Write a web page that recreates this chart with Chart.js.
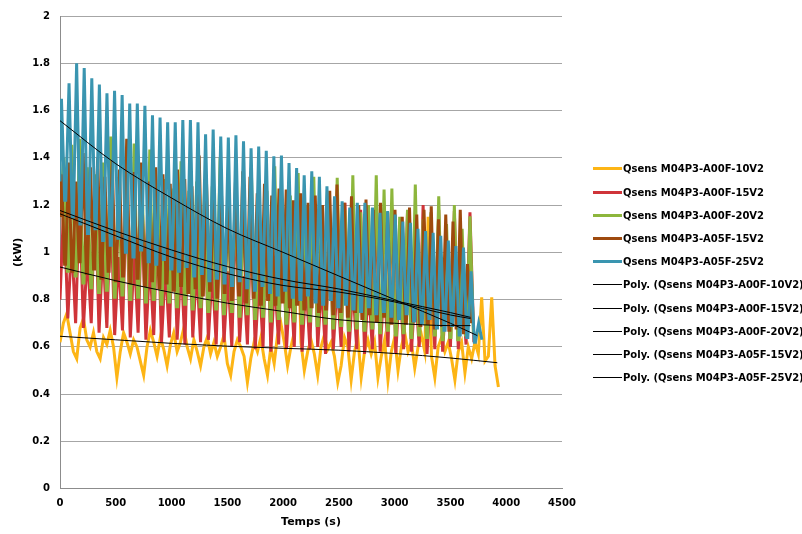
<!DOCTYPE html>
<html>
<head>
<meta charset="utf-8">
<script src="https://cdn.jsdelivr.net/npm/chart.js@4.4.0/dist/chart.umd.min.js"></script>
<style>
  html, body { margin: 0; padding: 0; background: #fff; overflow: hidden; }
  #wrap { position: relative; width: 802px; height: 534px; overflow: hidden; }
  #legend { position: absolute; left: 593px; top: 157.4px; font: bold 10px "DejaVu Sans"; color: #000; white-space: nowrap; }
  .row { height: 23.2px; display: flex; align-items: center; }
  .mark { width: 29px; margin-right: 1px; flex: none; }
</style>
</head>
<body>
<div id="wrap">
  <canvas id="chart" width="802" height="534"></canvas>
  <div id="legend"></div>
</div>
<script>
// series names / colours
const seriesNames = ['Qsens M04P3-A00F-10V2', 'Qsens M04P3-A00F-15V2', 'Qsens M04P3-A00F-20V2',
                     'Qsens M04P3-A05F-15V2', 'Qsens M04P3-A05F-25V2'];
const seriesColors = ['#FDB515', '#CF3439', '#8DB63C', '#9E4A0E', '#3A95B0'];

// A00F-10V2: noisy signal, sampled every 30 s (kW)
const yellowStep = 30;
const yellowKW = [0.62, 0.70, 0.74, 0.66, 0.58, 0.55, 0.68, 0.72, 0.63, 0.60, 0.66, 0.58, 0.55, 0.64, 0.61, 0.67, 0.60, 0.47, 0.58, 0.66, 0.62,
  0.57, 0.63, 0.60, 0.54, 0.48, 0.60, 0.67, 0.62, 0.56, 0.64, 0.59, 0.52, 0.61, 0.66, 0.58, 0.62, 0.68, 0.60, 0.55, 0.63,
  0.58, 0.52, 0.60, 0.64, 0.57, 0.62, 0.56, 0.60, 0.65, 0.53, 0.48, 0.58, 0.63, 0.60, 0.56, 0.45, 0.55, 0.62, 0.58, 0.64,
  0.55, 0.48, 0.60, 0.53, 0.65, 0.70, 0.62, 0.52, 0.60, 0.66, 1.16, 0.62, 0.50, 0.58, 0.63, 0.57, 0.48, 0.60, 0.65, 0.59,
  0.62, 0.56, 0.45, 0.52, 0.64, 0.60, 0.46, 0.58, 0.64, 0.47, 0.58, 0.63, 0.57, 0.62, 0.47, 0.56, 0.63, 0.46, 0.58, 0.64,
  0.50, 0.60, 0.66, 0.58, 0.62, 0.51, 0.60, 0.65, 0.58, 1.15, 0.56, 0.47, 0.60, 0.64, 0.58, 0.62, 0.55, 0.46, 0.58, 0.62,
  0.49, 0.60, 0.55, 0.62, 0.57, 0.81, 0.54, 0.56, 0.81, 0.52, 0.43];

// A00F-15V2: alternating highs / dips every 35 s (kW)
const redStep = 35;
const redKW = [0.80, 1.22, 0.72, 1.05, 0.70, 1.23, 0.68, 1.00, 0.70, 1.26, 0.66, 1.02, 0.68, 1.21, 0.65, 0.98, 0.67, 1.24, 0.64, 1.00,
  0.66, 1.20, 0.63, 0.97, 0.65, 1.18, 0.62, 0.95, 0.64, 1.21, 0.63, 0.96, 0.61, 1.23, 0.64, 0.94, 0.62, 1.22, 0.63, 0.93,
  0.61, 1.16, 0.62, 0.92, 0.60, 1.19, 0.62, 0.90, 0.61, 1.17, 0.59, 0.91, 0.60, 1.22, 0.58, 0.89, 0.61, 1.19, 0.59, 0.90,
  0.60, 1.20, 0.58, 0.88, 0.59, 1.17, 0.60, 0.87, 0.57, 1.19, 0.59, 0.88, 0.60, 1.21, 0.58, 0.86, 0.59, 1.18, 0.57, 0.87,
  0.59, 1.20, 0.58, 0.86, 0.60, 1.19, 0.57, 0.88, 0.59, 1.17, 0.58, 0.85, 0.60, 1.20, 0.57, 0.87, 0.59, 1.18, 0.58, 0.86,
  0.60, 1.175, 0.59, 0.85, 0.61, 1.17, 0.62];

// cycling series: peak of each cycle and the level between cycles (kW)
const greenPeriod = 70, greenOffset = 35, greenSpike = 60;
const greenPeaks = [1.40, 1.455, 1.48, 1.36, 1.33, 1.38, 1.49, 1.32, 1.35, 1.46,
  1.30, 1.435, 1.28, 1.31, 1.27, 1.385, 1.26, 1.30, 1.25, 1.28,
  1.40, 1.24, 1.27, 1.23, 1.357, 1.22, 1.26, 1.364, 1.21, 1.24,
  1.336, 1.20, 1.32, 1.19, 1.23, 1.315, 1.18, 1.326, 1.17, 1.20,
  1.326, 1.266, 1.27, 1.15, 1.18, 1.287, 1.14, 1.17, 1.237, 1.12,
  1.20, 1.10, 1.153];
const greenLows = [1.20, 0.92, 0.90, 0.87, 0.85, 0.83, 0.84, 0.81, 0.82, 0.80,
  0.81, 0.79, 0.80, 0.78, 0.79, 0.77, 0.78, 0.76, 0.77, 0.75,
  0.76, 0.74, 0.75, 0.73, 0.74, 0.72, 0.73, 0.71, 0.72, 0.70,
  0.71, 0.70, 0.71, 0.69, 0.70, 0.68, 0.69, 0.67, 0.68, 0.67,
  0.68, 0.66, 0.67, 0.65, 0.66, 0.64, 0.65, 0.64, 0.65, 0.63,
  0.64, 0.63, 0.65, 0.66];

const brownPeriod = 65, brownOffset = 13, brownSpike = 56;
const brownPeaks = [1.33, 1.38, 1.30, 1.42, 1.36, 1.40, 1.32, 1.39, 1.35, 1.48,
  1.34, 1.38, 1.30, 1.36, 1.33, 1.29, 1.35, 1.31, 1.28, 1.41,
  1.30, 1.27, 1.33, 1.26, 1.30, 1.343, 1.32, 1.25, 1.29, 1.24,
  1.27, 1.266, 1.22, 1.25, 1.21, 1.24, 1.20, 1.26, 1.287, 1.21,
  1.237, 1.20, 1.223, 1.18, 1.21, 1.17, 1.18, 1.15, 1.19, 1.16,
  1.18, 1.195, 1.14, 1.16, 1.13, 1.18, 0.95];
const brownLows = [1.15, 0.95, 0.92, 0.96, 0.91, 0.93, 0.89, 0.92, 0.88, 0.90,
  0.87, 0.89, 0.86, 0.88, 0.85, 0.87, 0.84, 0.86, 0.83, 0.85,
  0.82, 0.84, 0.81, 0.83, 0.80, 0.82, 0.79, 0.81, 0.78, 0.80,
  0.78, 0.79, 0.77, 0.78, 0.76, 0.77, 0.75, 0.76, 0.74, 0.75,
  0.73, 0.75, 0.72, 0.74, 0.71, 0.73, 0.70, 0.72, 0.70, 0.71,
  0.69, 0.70, 0.68, 0.69, 0.67, 0.68, 0.66, 0.70];

const tealPeriod = 68, tealOffset = 13, tealSpike = 58;
const tealPeaks = [1.65, 1.715, 1.80, 1.78, 1.736, 1.71, 1.673, 1.684, 1.666, 1.63,
  1.63, 1.62, 1.58, 1.57, 1.55, 1.55, 1.56, 1.56, 1.55, 1.50,
  1.52, 1.49, 1.486, 1.495, 1.47, 1.44, 1.448, 1.43, 1.406, 1.41,
  1.378, 1.357, 1.326, 1.343, 1.32, 1.28, 1.237, 1.216, 1.19, 1.21,
  1.21, 1.19, 1.167, 1.175, 1.16, 1.13, 1.125, 1.10, 1.09, 1.083,
  1.07, 1.05, 1.027, 1.02, 0.92, 0.70];
const tealLows = [1.30, 1.22, 1.15, 1.12, 1.08, 1.10, 1.05, 1.03, 1.06, 1.00,
  0.98, 1.01, 0.96, 0.95, 0.97, 0.93, 0.92, 0.94, 0.90, 0.91,
  0.88, 0.89, 0.87, 0.86, 0.88, 0.85, 0.84, 0.86, 0.83, 0.82,
  0.84, 0.81, 0.80, 0.82, 0.79, 0.78, 0.80, 0.77, 0.78, 0.76,
  0.75, 0.77, 0.74, 0.75, 0.73, 0.72, 0.74, 0.71, 0.70, 0.72,
  0.68, 0.67, 0.69, 0.65, 0.64, 0.62, 0.63];

// polynomial trend lines, read at a few times
const trendTimesYellow = [0, 500, 1000, 1500, 2000, 2500, 3000, 3500, 3920];
const trendTimesShort = [0, 500, 1000, 1500, 2000, 2500, 3000, 3500, 3680];
const trendTimesTeal = [0, 500, 1000, 1500, 2000, 2500, 3000, 3500, 3740];
const yellowTrend = [0.645, 0.630, 0.615, 0.603, 0.594, 0.586, 0.572, 0.553, 0.533];
const redTrend = [0.938, 0.880, 0.830, 0.785, 0.750, 0.715, 0.700, 0.690, 0.690];
const greenTrend = [1.177, 1.090, 1.010, 0.940, 0.885, 0.845, 0.795, 0.745, 0.725];
const brownTrend = [1.163, 1.070, 0.980, 0.910, 0.860, 0.832, 0.790, 0.735, 0.720];
const tealTrend = [1.557, 1.375, 1.230, 1.100, 1.000, 0.900, 0.800, 0.700, 0.648];

const xTicks = { min: 0, max: 4500, step: 500 };
const yTicks = { min: 0, max: 2, step: 0.2 };

function stepPoints(step, values) {
  return values.map((v, i) => ({ x: i * step, y: v }));
}
function timePoints(times, values) {
  return values.map((v, i) => ({ x: times[i], y: v }));
}
// one spike per cycle, between the levels read either side of it
function spikePoints(period, offset, width, peaks, lows) {
  const pts = [{ x: 0, y: lows[0] }];
  peaks.forEach((p, k) => {
    const c = offset + k * period;
    pts.push({ x: Math.max(0, c - width / 2), y: lows[k] });
    pts.push({ x: c, y: p });
    pts.push({ x: c + width / 2, y: lows[k + 1] });
  });
  return pts;
}

const seriesData = [
  stepPoints(yellowStep, yellowKW),
  stepPoints(redStep, redKW),
  spikePoints(greenPeriod, greenOffset, greenSpike, greenPeaks, greenLows),
  spikePoints(brownPeriod, brownOffset, brownSpike, brownPeaks, brownLows),
  spikePoints(tealPeriod, tealOffset, tealSpike, tealPeaks, tealLows)
];
const trendData = [
  timePoints(trendTimesYellow, yellowTrend),
  timePoints(trendTimesShort, redTrend),
  timePoints(trendTimesShort, greenTrend),
  timePoints(trendTimesShort, brownTrend),
  timePoints(trendTimesTeal, tealTrend)
];

const datasets = [];
for (let i = 0; i < seriesNames.length; i++) {
  datasets.push({
    label: seriesNames[i],
    data: seriesData[i],
    borderColor: seriesColors[i],
    borderWidth: 3,
    pointRadius: 0,
    tension: 0,
    order: 5 - i
  });
}
for (let i = 0; i < seriesNames.length; i++) {
  datasets.push({
    label: 'Poly. (' + seriesNames[i] + ')',
    data: trendData[i],
    borderColor: '#000',
    borderWidth: 1,
    pointRadius: 0,
    cubicInterpolationMode: 'monotone',
    order: 0
  });
}

const tickFont = { family: 'DejaVu Sans', size: 10, weight: 'bold' };
const titleFont = { family: 'DejaVu Sans', size: 11, weight: 'bold' };

new Chart(document.getElementById('chart'), {
  type: 'line',
  data: { datasets: datasets },
  options: {
    responsive: false,
    animation: false,
    devicePixelRatio: 1,
    layout: { padding: { top: 14, right: 240, bottom: 0, left: 0 } },
    plugins: { legend: { display: false }, tooltip: { enabled: false } },
    scales: {
      x: {
        type: 'linear',
        min: xTicks.min, max: xTicks.max,
        ticks: { stepSize: xTicks.step, font: tickFont, color: '#000', padding: 9, maxRotation: 0,
                 callback: (v) => String(v) },
        grid: { display: false, drawTicks: false },
        border: { display: true, color: '#8c8c8c', width: 1 },
        title: { display: true, text: 'Temps (s)', font: titleFont, color: '#000', padding: { top: 0, bottom: 5 } },
        afterFit: (scale) => { scale.height = 45.3; }
      },
      y: {
        min: yTicks.min, max: yTicks.max,
        ticks: { stepSize: yTicks.step, font: tickFont, color: '#000', padding: 10,
                 callback: (v) => String(Math.round(v * 10) / 10) },
        grid: { color: '#a6a6a6', lineWidth: 1, drawTicks: false },
        border: { display: true, color: '#8c8c8c', width: 1 },
        title: { display: true, text: '(kW)', font: titleFont, color: '#000', padding: { top: 12, bottom: 0 } },
        afterFit: (scale) => { scale.width = 60; }
      }
    }
  }
});

// legend on the right, built from the same names/colours
const legendEl = document.getElementById('legend');
function addRow(color, thickness, text) {
  const row = document.createElement('div');
  row.className = 'row';
  const mark = document.createElement('span');
  mark.className = 'mark';
  mark.style.height = thickness + 'px';
  mark.style.background = color;
  const label = document.createElement('span');
  label.textContent = text;
  row.appendChild(mark);
  row.appendChild(label);
  legendEl.appendChild(row);
}
seriesNames.forEach((name, i) => addRow(seriesColors[i], 3, name));
seriesNames.forEach((name) => addRow('#000', 1, 'Poly. (' + name + ')'));
</script>
</body>
</html>
